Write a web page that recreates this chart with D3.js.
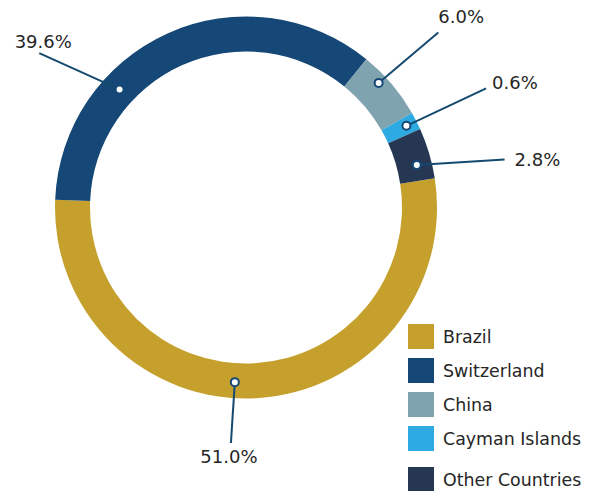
<!DOCTYPE html>
<html>
<head>
<meta charset="utf-8">
<script src="https://cdn.jsdelivr.net/npm/d3@7"></script>
<style>
  html, body { margin: 0; padding: 0; background: #fff; }
  svg { display: block; }
  text { font-family: "DejaVu Sans", Verdana, sans-serif; fill: #262626; }
</style>
</head>
<body>
<div class="chart"></div>
<script>
// données
const countries = ["Brazil", "Switzerland", "China", "Cayman Islands", "Other Countries"];
const sliceValues = [53.1, 35.2, 5.9, 1.5, 4.3];        // taille des arcs telle que dessinée
const pctLabels = ["51.0%", "39.6%", "6.0%", "0.6%", "2.8%"];
const colors = ["#C5A02C", "#154876", "#7FA4AF", "#2DAAE1", "#263754"];

const width = 592, height = 491;
const cx = 246, cy = 207.5;
const rOuter = 191, rInner = 156;
const deg = Math.PI / 180;

// placement des étiquettes (fraction de l'arc, rayon du point, décalage de l'angle du trait)
const labelLayout = [
  { f: 0.536, r: 175, dA: 0,    rEnd: 236, anchor: "middle", dx: -2, dy: 19.5 },
  { f: 0.321, r: 173, dA: -6.3, rEnd: 258, anchor: "middle", dx: 4,  dy: -5.5 },
  { f: 0.363, r: 182, dA: 0.9,  rEnd: 260, anchor: "start",  dx: 0,  dy: -9 },
  { f: 0.50,  r: 180, dA: 0.6,  rEnd: 268, anchor: "start",  dx: 6,  dy: 1 },
  { f: 0.664, r: 176, dA: 3.5,  rEnd: 263, anchor: "start",  dx: 10, dy: 6.5 }
];

const svg = d3.select(".chart").append("svg")
  .attr("width", width)
  .attr("height", height);

const color = d3.scaleOrdinal().domain(countries).range(colors);

const startA = 81.2 * deg;
const pie = d3.pie().value(d => d.value).sort(null)
  .startAngle(startA).endAngle(startA + 2 * Math.PI);

const data = countries.map((c, i) => ({ country: c, value: sliceValues[i], label: pctLabels[i], i }));
const arcs = pie(data);

const arc = d3.arc().innerRadius(rInner).outerRadius(rOuter);

const g = svg.append("g").attr("transform", `translate(${cx},${cy})`);

g.selectAll("path.slice")
  .data(arcs)
  .join("path")
  .attr("class", "slice")
  .attr("d", arc)
  .attr("fill", d => color(d.data.country));

const polar = (a, r) => [r * Math.sin(a), -r * Math.cos(a)];

// traits + points + textes
arcs.forEach(d => {
  const L = labelLayout[d.data.i];
  const a = d.startAngle + L.f * (d.endAngle - d.startAngle);
  const p0 = polar(a, L.r);
  const p1 = polar(a + L.dA * deg, L.rEnd);

  g.append("line")
    .attr("x1", p0[0]).attr("y1", p0[1])
    .attr("x2", p1[0]).attr("y2", p1[1])
    .attr("stroke", "#154a6f")
    .attr("stroke-width", 2);

  g.append("circle")
    .attr("cx", p0[0]).attr("cy", p0[1])
    .attr("r", 4)
    .attr("fill", "#fff")
    .attr("stroke", "#154876")
    .attr("stroke-width", 2);

  g.append("text")
    .attr("x", p1[0] + L.dx)
    .attr("y", p1[1] + L.dy)
    .attr("text-anchor", L.anchor)
    .style("font-size", "18px")
    .text(d.data.label);
});

// légende
const legend = svg.append("g").attr("transform", "translate(408,324)");
const rowY = i => i * 34 + (i === 4 ? 7 : 0);

const item = legend.selectAll("g.item")
  .data(countries)
  .join("g")
  .attr("class", "item")
  .attr("transform", (d, i) => `translate(0,${rowY(i)})`);

item.append("rect")
  .attr("width", 26)
  .attr("height", 25)
  .attr("fill", d => color(d));

item.append("text")
  .attr("x", 35)
  .attr("y", 18.5)
  .style("font-size", "17.4px")
  .text(d => d);
</script>
</body>
</html>
